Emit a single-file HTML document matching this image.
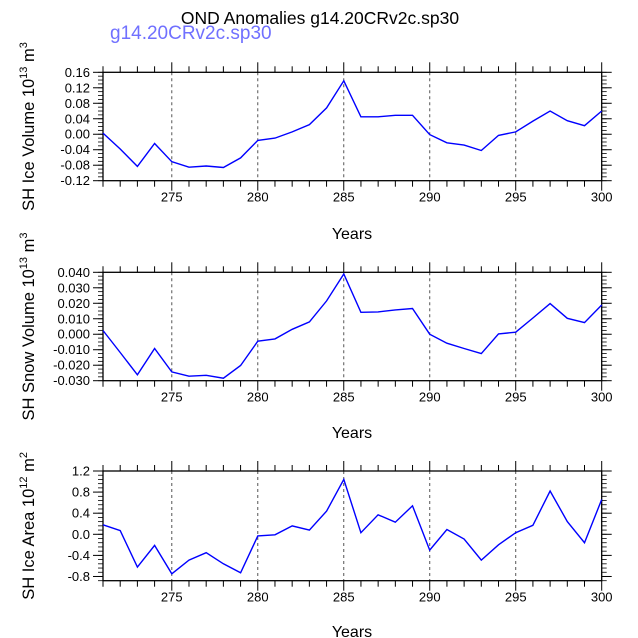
<!DOCTYPE html>
<html><head><meta charset="utf-8"><style>
body{margin:0;background:#fff;}
svg{display:block;font-family:"Liberation Sans",sans-serif;}
</style></head><body>
<svg id="chart" width="638" height="638">
<text x="320" y="24" text-anchor="middle" font-size="17.5">OND Anomalies g14.20CRv2c.sp30</text>
<text x="110" y="39" font-size="19" fill="#7070ff">g14.20CRv2c.sp30</text>
</svg>
<script>
const years = [271,272,273,274,275,276,277,278,279,280,281,282,283,284,285,286,287,288,289,290,291,292,293,294,295,296,297,298,299,300];
const iceVolume = [0.003,-0.038,-0.083,-0.024,-0.071,-0.085,-0.082,-0.086,-0.061,-0.016,-0.010,0.006,0.025,0.068,0.138,0.045,0.045,0.049,0.049,-0.001,-0.022,-0.028,-0.042,-0.003,0.006,0.034,0.060,0.035,0.022,0.060];
const snowVolume = [0.0024,-0.0118,-0.0262,-0.0092,-0.0243,-0.0271,-0.0265,-0.0284,-0.0202,-0.0045,-0.003,0.0032,0.008,0.0215,0.0389,0.0142,0.0144,0.0157,0.0166,0.0,-0.0058,-0.0092,-0.0125,0.0002,0.0013,0.0105,0.0198,0.0103,0.0075,0.0189];
const iceArea = [0.18,0.07,-0.62,-0.21,-0.75,-0.49,-0.35,-0.56,-0.73,-0.03,-0.01,0.16,0.08,0.44,1.04,0.03,0.37,0.23,0.54,-0.30,0.09,-0.09,-0.49,-0.20,0.03,0.17,0.82,0.24,-0.16,0.66];
const xTicks = [275,280,285,290,295,300];
const iceTicks = ["0.16","0.12","0.08","0.04","0.00","-0.04","-0.08","-0.12"];
const snowTicks = ["0.040","0.030","0.020","0.010","0.000","-0.010","-0.020","-0.030"];
const areaTicks = ["1.2","0.8","0.4","0.0","-0.4","-0.8"];

const NS="http://www.w3.org/2000/svg";
const svg=document.getElementById('chart');
function mk(tag,attrs,parent){const e=document.createElementNS(NS,tag);for(const k in attrs)e.setAttribute(k,attrs[k]);(parent||svg).appendChild(e);return e;}
const X0=103,X1=601.7,XMIN=271,XMAX=300;
const xs=v=>X0+(v-XMIN)/(XMAX-XMIN)*(X1-X0);

function panel(name,top,bot,vmin,vmax,ticks,minorStep,data,labelParts,yearsY){
  const g=mk('g',{});
  
  
  const ys=v=>bot-(v-vmin)/(vmax-vmin)*(bot-top);
  xTicks.slice(0,5).forEach(t=>{const l=mk('line',{x1:xs(t),x2:xs(t),y1:top,y2:bot,stroke:'#555','stroke-width':1,'stroke-dasharray':'3,3'},g);
    });
  for(let y=XMIN;y<=XMAX;y++){const maj=y%5===0;const L=maj?10:6;
    mk('line',{x1:xs(y),x2:xs(y),y1:top-L,y2:top,stroke:'#000','stroke-width':1},g);
    mk('line',{x1:xs(y),x2:xs(y),y1:bot,y2:bot+L,stroke:'#000','stroke-width':1},g);}
  xTicks.forEach(t=>{const tx=mk('text',{x:xs(t),y:bot+21,'text-anchor':'middle','font-size':13},g);tx.textContent=t;
    });
  ticks.forEach(s=>{const v=parseFloat(s);const y=ys(v);
    mk('line',{x1:X0-10,x2:X0,y1:y,y2:y,stroke:'#000'},g);mk('line',{x1:X1,x2:X1+10,y1:y,y2:y,stroke:'#000'},g);
    const tx=mk('text',{x:X0-13,y:y+4.5,'text-anchor':'end','font-size':13},g);tx.textContent=s;
    });
  for(let v=vmin;v<=vmax+1e-9;v+=minorStep){const y=ys(v);
    mk('line',{x1:X0-5,x2:X0,y1:y,y2:y,stroke:'#000','stroke-width':0.8},g);mk('line',{x1:X1,x2:X1+5,y1:y,y2:y,stroke:'#000','stroke-width':0.8},g);}
  const fr=mk('rect',{x:X0,y:top,width:X1-X0,height:bot-top,fill:'none',stroke:'#000','stroke-width':1.3},g);
  
  const pts=years.map((yr,i)=>xs(yr).toFixed(1)+','+ys(data[i]).toFixed(1)).join(' ');
  const pl=mk('polyline',{points:pts,fill:'none',stroke:'#0000ff','stroke-width':1.4},g);
  
  const yl=mk('text',{x:0,y:0,'text-anchor':'middle','font-size':16.5,transform:`translate(34,${(top+bot)/2}) rotate(-90)`},g);
  yl.innerHTML=labelParts;
  
  const xl=mk('text',{x:352,y:yearsY,'text-anchor':'middle','font-size':16},g);xl.textContent='Years';
  
}
panel('ice-volume',72.3,180.7,-0.12,0.16,iceTicks,0.01,iceVolume,'SH Ice Volume 10<tspan dy="-7" font-size="11">13</tspan><tspan dy="7"> m</tspan><tspan dy="-7" font-size="11">3</tspan>',239);
panel('snow-volume',272.3,380.7,-0.03,0.04,snowTicks,0.0025,snowVolume,'SH Snow Volume 10<tspan dy="-7" font-size="11">13</tspan><tspan dy="7"> m</tspan><tspan dy="-7" font-size="11">3</tspan>',438);
panel('ice-area',471,580.7,-0.88,1.2,areaTicks,0.08,iceArea,'SH Ice Area 10<tspan dy="-7" font-size="11">12</tspan><tspan dy="7"> m</tspan><tspan dy="-7" font-size="11">2</tspan>',637);
</script>
</body></html>
